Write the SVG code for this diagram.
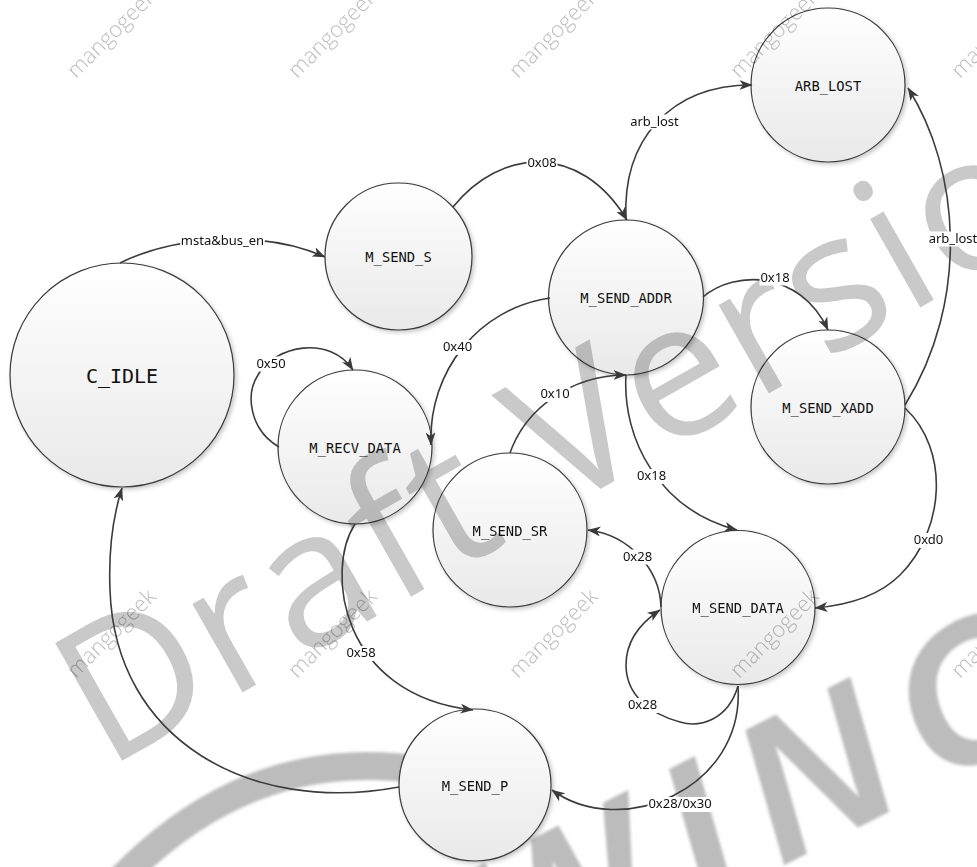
<svg xmlns="http://www.w3.org/2000/svg" width="977" height="867" viewBox="0 0 977 867">
  <defs>
    <linearGradient id="nodeFill" x1="0" y1="0" x2="0" y2="1">
      <stop offset="0" stop-color="#ffffff"/>
      <stop offset="1" stop-color="#e9e9e9"/>
    </linearGradient>
    <filter id="shadow" x="-20%" y="-20%" width="140%" height="140%">
      <feDropShadow dx="2" dy="2" stdDeviation="2" flood-color="#000" flood-opacity="0.22"/>
    </filter>
    <filter id="soft" x="-10%" y="-10%" width="120%" height="120%">
      <feGaussianBlur stdDeviation="1.4"/>
    </filter>
    <marker id="arrow" viewBox="0 0 13 10" refX="12.5" refY="5" markerWidth="13" markerHeight="10" markerUnits="userSpaceOnUse" orient="auto">
      <path d="M0,0 L13,5 L0,10 L3.5,5 Z" fill="#3a3a3a"/>
    </marker>
  </defs>
  <style>
    .state { fill: url(#nodeFill); stroke: #3a3a3a; stroke-width: 1.2; filter: url(#shadow); }
    .name { font-family: "DejaVu Sans Mono", "Liberation Mono", monospace; font-size: 13.8px; fill: #111; text-anchor: middle; }
    .big { font-size: 20px; }
    .edge { fill: none; stroke: #3c3c3c; stroke-width: 1.6; marker-end: url(#arrow); }
    .lblbg { fill: #fff; }
    .lbl { font-family: "Noto Sans", "Liberation Sans", sans-serif; font-size: 13px; fill: #111; text-anchor: middle; }
    .mark { font-family: "Open Sans", "Liberation Sans", sans-serif; font-size: 22px; font-weight: 300; fill: #000; fill-opacity: 0.27; }
  </style>
  <rect width="977" height="867" fill="#fff"/>

  <!-- background stamp, sits under the states -->
  <g id="stamp-back" fill="#bcbcbc" filter="url(#soft)">
    <path d="M120,880 Q250,745 420,770" fill="none" stroke="#bcbcbc" stroke-width="28"/>
    <text transform="translate(510,1005) rotate(-27)" font-family="Liberation Sans, sans-serif" font-size="200" font-weight="700" font-style="italic" letter-spacing="30">WING</text>
  </g>

  <!-- states -->
  <g id="C_IDLE">
    <circle class="state" cx="122" cy="375" r="112"/>
    <text class="name big" x="122" y="383">C_IDLE</text>
  </g>
  <g id="M_SEND_S">
    <circle class="state" cx="398.5" cy="256.5" r="73.5"/>
    <text class="name" x="398.5" y="262">M_SEND_S</text>
  </g>
  <g id="ARB_LOST">
    <circle class="state" cx="828" cy="85" r="77"/>
    <text class="name" x="828" y="90.5">ARB_LOST</text>
  </g>
  <g id="M_SEND_ADDR">
    <circle class="state" cx="626" cy="297.5" r="77.5"/>
    <text class="name" x="626" y="303">M_SEND_ADDR</text>
  </g>
  <g id="M_SEND_XADD">
    <circle class="state" cx="828" cy="407" r="77"/>
    <text class="name" x="828" y="412.5">M_SEND_XADD</text>
  </g>
  <g id="M_RECV_DATA">
    <circle class="state" cx="355" cy="447" r="77"/>
    <text class="name" x="355" y="452.5">M_RECV_DATA</text>
  </g>
  <g id="M_SEND_SR">
    <circle class="state" cx="510" cy="530" r="77"/>
    <text class="name" x="510" y="535.5">M_SEND_SR</text>
  </g>
  <g id="M_SEND_DATA">
    <circle class="state" cx="738" cy="607.5" r="77"/>
    <text class="name" x="738" y="613">M_SEND_DATA</text>
  </g>
  <g id="M_SEND_P">
    <circle class="state" cx="475" cy="785" r="76"/>
    <text class="name" x="475" y="791">M_SEND_P</text>
  </g>

  <!-- overlay stamp -->
  <g id="stamp-front">
    <text transform="translate(106,770) rotate(-29.6)" font-family="Open Sans, Liberation Sans, sans-serif" font-size="190" letter-spacing="3" fill="#000" fill-opacity="0.21">Draft Version</text>
    <g class="mark">
      <text transform="translate(76,79) rotate(-45)">mangogeek</text>
      <text transform="translate(297,79) rotate(-45)">mangogeek</text>
      <text transform="translate(518,79) rotate(-45)">mangogeek</text>
      <text transform="translate(739,79) rotate(-45)">mangogeek</text>
      <text transform="translate(960,79) rotate(-45)">mangogeek</text>
      <text transform="translate(76,679) rotate(-45)">mangogeek</text>
      <text transform="translate(297,679) rotate(-45)">mangogeek</text>
      <text transform="translate(518,679) rotate(-45)">mangogeek</text>
      <text transform="translate(739,679) rotate(-45)">mangogeek</text>
      <text transform="translate(960,679) rotate(-45)">mangogeek</text>
    </g>
  </g>

  <!-- transitions -->
  <g id="connectors">
    <path class="edge" d="M120,263 C170,238 260,228 325,257"/>
    <path class="edge" d="M453,207 C500,148 580,142 627,220"/>
    <path class="edge" d="M626,220 C622,140 670,85 752,85"/>
    <path class="edge" d="M905,405 C970,300 960,170 908,88"/>
    <path class="edge" d="M703,297 C735,270 800,270 828,330"/>
    <path class="edge" d="M550,298 C480,308 428,370 431,445"/>
    <path class="edge" d="M510,453 C525,410 570,375 626,375"/>
    <path class="edge" d="M626,375 C622,440 660,510 737,530"/>
    <path class="edge" d="M661,607 C660,570 630,535 588,530"/>
    <path class="edge" d="M738,686 C728,720 700,728 680,722 C650,714 626,695 626,665 C626,640 642,622 660,610"/>
    <path class="edge" d="M738,686 C745,790 620,840 552,790"/>
    <path class="edge" d="M355,524 C325,570 340,695 473,710"/>
    <path class="edge" d="M399,787 C250,815 115,740 110,590 C108,540 115,510 122,488"/>
    <path class="edge" d="M279,447 C250,430 245,395 258,375 C275,345 330,335 353,370"/>
    <path class="edge" d="M905,408 C950,450 945,530 900,575 C880,595 850,605 815,608"/>

    <rect class="lblbg" x="180.2" y="233.5" width="84.6" height="15"/>
    <rect class="lblbg" x="526.5" y="155.5" width="31" height="15"/>
    <rect class="lblbg" x="629.4" y="114.5" width="50.3" height="15"/>
    <rect class="lblbg" x="927.9" y="231.5" width="50.3" height="15"/>
    <rect class="lblbg" x="759.5" y="270.5" width="31" height="15"/>
    <rect class="lblbg" x="442" y="340" width="31" height="15"/>
    <rect class="lblbg" x="539.5" y="387" width="31" height="15"/>
    <rect class="lblbg" x="636" y="469" width="31" height="15"/>
    <rect class="lblbg" x="622" y="549.5" width="31" height="15"/>
    <rect class="lblbg" x="627" y="698" width="31" height="15"/>
    <rect class="lblbg" x="647.5" y="797" width="65" height="15"/>
    <rect class="lblbg" x="345.5" y="646" width="31" height="15"/>
    <rect class="lblbg" x="255.5" y="356.5" width="31" height="15"/>
    <rect class="lblbg" x="912.7" y="533" width="31.7" height="15"/>

    <text class="lbl" x="222.5" y="244.5">msta&amp;bus_en</text>
    <text class="lbl" x="542" y="166.5">0x08</text>
    <text class="lbl" x="654.5" y="125.5">arb_lost</text>
    <text class="lbl" x="953" y="242.5">arb_lost</text>
    <text class="lbl" x="775" y="281.5">0x18</text>
    <text class="lbl" x="457.5" y="351">0x40</text>
    <text class="lbl" x="555" y="398">0x10</text>
    <text class="lbl" x="651.5" y="480">0x18</text>
    <text class="lbl" x="637.5" y="560.5">0x28</text>
    <text class="lbl" x="642.5" y="709">0x28</text>
    <text class="lbl" x="680" y="808">0x28/0x30</text>
    <text class="lbl" x="361" y="657">0x58</text>
    <text class="lbl" x="271" y="367.5">0x50</text>
    <text class="lbl" x="928.5" y="544">0xd0</text>
  </g>
</svg>
